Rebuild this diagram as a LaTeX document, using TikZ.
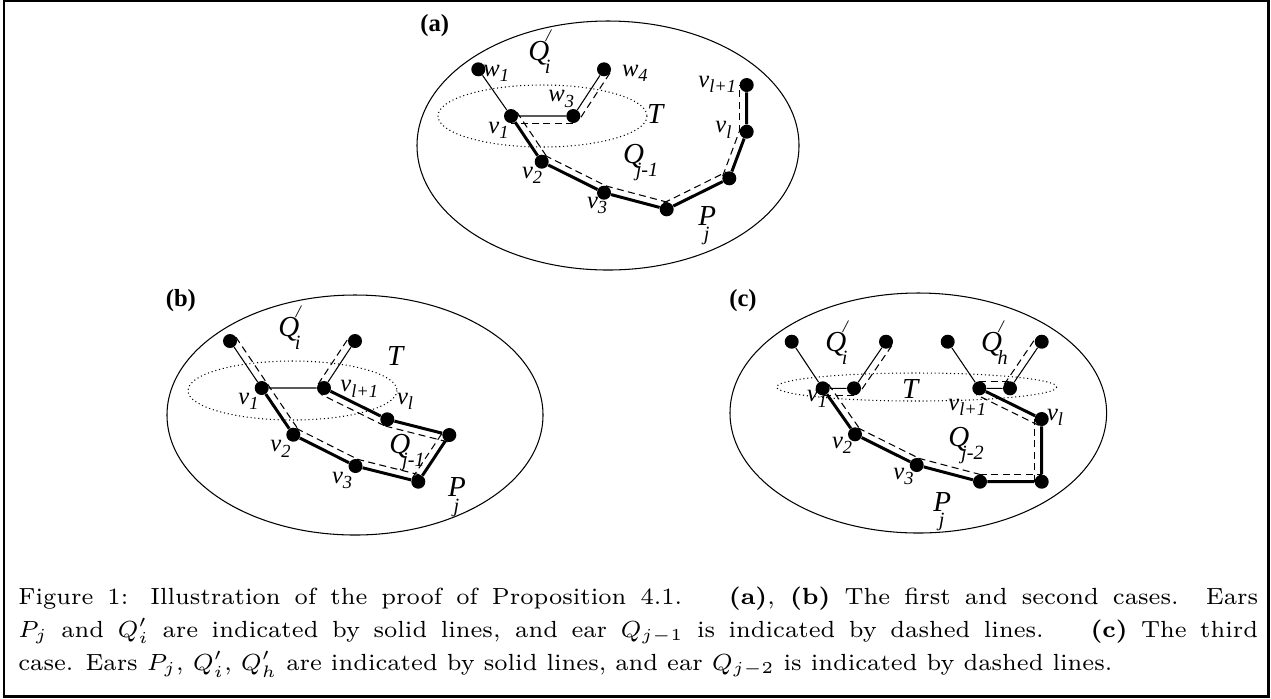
\documentclass[tikz,border=0pt]{standalone}
\usepackage{fontspec}
\newfontfamily\figfont{Liberation Serif}
\usetikzlibrary{calc}

% xfig-like labels: subscript dropped, ears with a slash prime
\newcommand{\vsub}[2]{#1\raisebox{-0.22em}{\fontsize{10.5}{10.5}\selectfont #2}}
\newcommand{\esub}[2]{#1\kern-0.28em\raisebox{-0.48em}{\fontsize{11.5}{11.5}\selectfont #2}}
\newcommand{\psub}[2]{#1\kern-0.42em\raisebox{-0.55em}{\fontsize{11.5}{11.5}\selectfont #2}}
\newcommand{\eprm}[2]{#1\rlap{\kern-0.12em\raisebox{0.64em}{\fontsize{10}{10}\selectfont /}}\kern-0.15em\raisebox{-0.45em}{\fontsize{11.5}{11.5}\selectfont #2}}
% dashed ear drawn beside an edge, on its left-hand side
\newcommand{\qline}[2]{\draw[earq] ($(#1.center)!4pt!90:(#2.center)$) -- ($(#2.center)!4pt!-90:(#1.center)$);}

\tikzset{
	vtx/.style={circle, fill, inner sep=0pt, minimum size=0.28cm},
	plain/.style={line width=0.6pt},
	earp/.style={line width=1.7pt},
	earq/.style={line width=0.6pt, dash pattern=on 4pt off 2.5pt},
	cloud/.style={line width=0.6pt, dash pattern=on 0.6pt off 1.6pt},
	rim/.style={line width=0.6pt},
	lbl/.style={anchor=base west, inner sep=0pt, font=\figfont\itshape\fontsize{14}{14}\selectfont},
	big/.style={lbl, font=\figfont\itshape\fontsize{16.5}{16.5}\selectfont},
	tag/.style={anchor=base west, inner sep=0pt, font=\figfont\bfseries\fontsize{14}{14}\selectfont},
}

\begin{document}
\begin{tikzpicture}[x=0.02cm, y=-0.02cm]
	\useasboundingbox (0,0) rectangle (1271,698);
	\draw[line width=1.5pt] (4,1) rectangle (1268.6,696.3);
	% ---------- Panel (a) ----------
	\begin{scope}
		\draw[rim] (608,145.5) ellipse [x radius=191, y radius=124.5];
		\draw[cloud] (542.5,116) ellipse [x radius=104.5, y radius=31];
		\foreach \n/\x/\y in {w1/478.3/69.3, w4/604/69.3, v1/511/116, w3/573.3/116,
			v2/541.7/161.7, v3/604/192.7, p4/666.7/209.3, p5/729.3/178.3,
			vl/746.7/131.7, vl1/746.7/85}
		\node[vtx] (a-\n) at (\x,\y) {};
		\draw[plain] (a-w1) -- (a-v1) -- (a-w3) -- (a-w4);
		\draw[earp] (a-v1) -- (a-v2) -- (a-v3) -- (a-p4) -- (a-p5) -- (a-vl) -- (a-vl1);
		\foreach \s/\t in {w4/w3, w3/v1, v1/v2, v2/v3, v3/p4, p4/p5, p5/vl, vl/vl1}
		{\qline{a-\s}{a-\t}}
		\node[tag] (a-tag) at (420,31) {(a)};
		\node[lbl] (a-lw1) at (483,76) {\vsub{w}{1}};
		\node[lbl] (a-lw4) at (621.7,76) {\vsub{w}{4}};
		\node[lbl] (a-lw3) at (548,101.7) {\vsub{w}{3}};
		\node[lbl] (a-lv1) at (488,133) {\vsub{v}{1}};
		\node[lbl] (a-lv2) at (521.7,178) {\vsub{v}{2}};
		\node[lbl] (a-lv3) at (586.7,208) {\vsub{v}{3}};
		\node[lbl] (a-lvl) at (715,132.7) {\vsub{v}{l}};
		\node[lbl] (a-lvl1) at (698,87) {\vsub{v}{l+1}};
		\node[big] (a-Q) at (528,60) {\eprm{Q}{i}};
		\node[big] (a-T) at (646.7,123) {T};
		\node[big] (a-Qj) at (622.7,163) {\esub{Q}{j-1}};
		\node[big] (a-P) at (698,225) {\psub{P}{j}};
	\end{scope}
	% ---------- Panel (b) ----------
	\begin{scope}
		\draw[rim] (355,415) ellipse [x radius=188, y radius=120];
		\draw[cloud] (292.5,390.5) ellipse [x radius=104.5, y radius=29.5];
		\foreach \n/\x/\y in {t1/230/341, t2/355/341, v1/261.7/388, vl1/324/388,
			vl/387.3/419.3, p6/449.3/435, p7/418.3/481.7, v3/355.5/466, v2/293.3/434.7}
		\node[vtx] (b-\n) at (\x,\y) {};
		\draw[plain] (b-t1) -- (b-v1) -- (b-vl1) -- (b-t2);
		\draw[earp] (b-v1) -- (b-v2) -- (b-v3) -- (b-p7) -- (b-p6) -- (b-vl) -- (b-vl1);
		\foreach \s/\t in {t1/v1, v1/v2, v2/v3, v3/p7, p7/p6, p6/vl, vl/vl1, vl1/t2}
		{\qline{b-\s}{b-\t}}
		\node[tag] (b-tag) at (165.5,306) {(b)};
		\node[big] (b-Q) at (278,336) {\eprm{Q}{i}};
		\node[big] (b-T) at (386.7,365) {T};
		\node[lbl] (b-lv1) at (238,404) {\vsub{v}{1}};
		\node[lbl] (b-lvl1) at (340,391.7) {\vsub{v}{l+1}};
		\node[lbl] (b-lvl) at (396.7,404) {\vsub{v}{l}};
		\node[big] (b-Qj) at (389,453) {\esub{Q}{j-1}};
		\node[lbl] (b-lv2) at (270,451.7) {\vsub{v}{2}};
		\node[lbl] (b-lv3) at (331.7,483) {\vsub{v}{3}};
		\node[big] (b-P) at (447.7,496.7) {\psub{P}{j}};
	\end{scope}
	% ---------- Panel (c) ----------
	\begin{scope}
		\draw[rim] (918.3,413) ellipse [x radius=188.3, y radius=120];
		\draw[cloud] (916.7,387) ellipse [x radius=140, y radius=14];
		\foreach \n/\x/\y in {t1/791.7/341.7, t2/886/341.7, v1/822.7/388.3, u1/854/388.3,
			t3/947.7/341.7, t4/1041.7/341.7, vl1/979.3/388.3, u2/1010/388.3,
			vl/1041.7/419, p10/1041.7/481.7, p11/980/481.7, v3/916.7/465, v2/855/434.3}
		\node[vtx] (c-\n) at (\x,\y) {};
		\draw[plain] (c-t1) -- (c-v1) -- (c-u1) -- (c-t2);
		\draw[plain] (c-t3) -- (c-vl1) -- (c-u2) -- (c-t4);
		\draw[earp] (c-v1) -- (c-v2) -- (c-v3) -- (c-p11) -- (c-p10) -- (c-vl) -- (c-vl1);
		\foreach \s/\t in {t2/u1, u1/v1, v1/v2, v2/v3, v3/p11, p11/p10, p10/vl, vl/vl1, vl1/u2, u2/t4}
		{\qline{c-\s}{c-\t}}
		\node[tag] (c-tag) at (729,306) {(c)};
		\node[big] (c-Qi) at (825,351) {\eprm{Q}{i}};
		\node[big] (c-Qh) at (980.7,351) {\eprm{Q}{h}};
		\node[big] (c-T) at (901.7,398) {T};
		\node[lbl] (c-lv1) at (806.7,401.7) {\vsub{v}{1}};
		\node[lbl] (c-lvl1) at (948,410) {\vsub{v}{l+1}};
		\node[lbl] (c-lvl) at (1046.7,420) {\vsub{v}{l}};
		\node[big] (c-Qj) at (948,446) {\esub{Q}{j-2}};
		\node[lbl] (c-lv2) at (831.7,448) {\vsub{v}{2}};
		\node[lbl] (c-lv3) at (893,479) {\vsub{v}{3}};
		\node[big] (c-P) at (933,511) {\psub{P}{j}};
	\end{scope}
	% ---------- caption ----------
	\node[anchor=base west, inner sep=0pt] (cap) at (18,604) {\scalebox{1.9}{\parbox[t]{13.053cm}{\fontsize{7}{9.95}\selectfont
		Figure 1: Illustration of the proof of Proposition 4.1.\qquad \textbf{(a)}, \textbf{(b)} The first and second cases. Ears\linebreak
		$P_j$ and $Q'_i$ are indicated by solid lines, and ear $Q_{j-1}$ is indicated by dashed lines.\qquad \textbf{(c)} The third\linebreak
		case. Ears $P_j$, $Q'_i$, $Q'_h$ are indicated by solid lines, and ear $Q_{j-2}$ is indicated by dashed lines.}}};
\end{tikzpicture}
\end{document}
